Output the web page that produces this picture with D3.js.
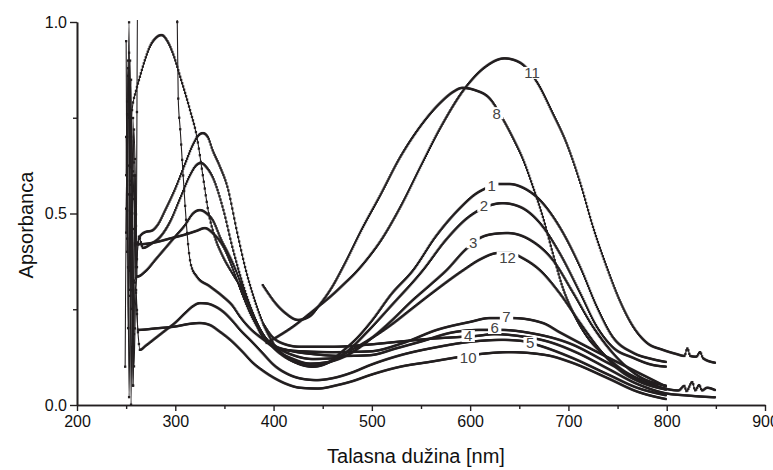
<!DOCTYPE html>
<html>
<head>
<meta charset="utf-8">
<script src="https://cdn.jsdelivr.net/npm/d3@7"></script>
<style>
  body { margin: 0; background: #fff; }
  svg { display: block; }
</style>
</head>
<body>
<svg id="chart" width="773" height="470"></svg>
<script>
// Absorbance spectra, [wavelength nm, absorbance]
const spec1 = [[250,0.95],[252,0.2],[254,0.9],[256,0.5],[258,0.72],[261,0.42],[264,0.44],[270,0.452],[276,0.455],[282,0.47],[290,0.51],[300,0.565],[310,0.63],[318,0.68],[324,0.705],[328,0.71],[333,0.7],[338,0.665],[345,0.625],[353,0.57],[363,0.45],[372,0.35],[380,0.28],[389,0.215],[400,0.16],[412,0.127],[425,0.108],[440,0.1],[455,0.11],[470,0.14],[485,0.175],[500,0.22],[520,0.29],[542,0.352],[565,0.44],[590,0.515],[605,0.55],[617,0.567],[628,0.577],[640,0.577],[654,0.567],[671,0.535],[691,0.465],[712,0.36],[729,0.256],[745,0.178],[766,0.136],[785,0.12],[800,0.112]];
const spec2 = [[251,0.55],[253,1.0],[255,0.0],[257,0.6],[260,0.36],[263,0.44],[267,0.41],[275,0.42],[285,0.44],[295,0.48],[305,0.54],[315,0.6],[321,0.625],[326,0.632],[332,0.62],[338,0.595],[349,0.509],[358,0.413],[367,0.33],[376,0.26],[386,0.2],[398,0.155],[410,0.128],[424,0.11],[438,0.102],[455,0.11],[475,0.14],[495,0.19],[520,0.26],[552,0.352],[575,0.43],[598,0.49],[614,0.515],[633,0.527],[651,0.517],[671,0.475],[691,0.397],[712,0.292],[729,0.204],[745,0.151],[766,0.123],[785,0.105],[800,0.1]];
const spec3 = [[250,0.7],[253,0.3],[255,0.85],[257,0.05],[259,0.6],[261,0.335],[270,0.35],[280,0.38],[290,0.41],[300,0.44],[310,0.47],[318,0.5],[325,0.509],[332,0.5],[338,0.483],[347,0.43],[354,0.395],[362,0.35],[372,0.28],[382,0.215],[393,0.17],[405,0.14],[420,0.12],[437,0.108],[455,0.112],[475,0.13],[500,0.175],[520,0.22],[540,0.27],[560,0.315],[576,0.352],[595,0.405],[610,0.436],[625,0.447],[638,0.449],[661,0.431],[684,0.379],[705,0.292],[725,0.204],[745,0.136],[773,0.073],[800,0.05]];
const spec4 = [[390,0.21],[398,0.18],[410,0.16],[427,0.152],[460,0.152],[498,0.158],[530,0.166],[560,0.173],[592,0.178],[605,0.18],[625,0.185],[650,0.18],[680,0.165],[710,0.135],[740,0.095],[770,0.055],[800,0.03],[820,0.025],[835,0.022],[850,0.02]];
const spec5 = [[249,0.1],[251,0.7],[253,0.02],[255,0.55],[257,0.05],[259,0.32],[262,0.19],[264,0.144],[270,0.155],[280,0.175],[290,0.195],[300,0.215],[310,0.24],[318,0.258],[325,0.266],[332,0.265],[340,0.258],[349,0.243],[358,0.22],[366,0.196],[378,0.165],[389,0.135],[400,0.105],[415,0.08],[430,0.068],[444,0.065],[460,0.07],[480,0.085],[498,0.104],[529,0.13],[566,0.151],[600,0.165],[633,0.17],[653,0.167],[668,0.157],[702,0.125],[740,0.08],[770,0.045],[800,0.025]];
const spec6 = [[257,0.15],[259,0.6],[260,0.33],[262,1.2],[299,1.2],[302,1.0],[303,0.8],[305,0.72],[307,0.64],[310,0.52],[313,0.42],[316,0.365],[322,0.335],[335,0.31],[349,0.282],[358,0.26],[366,0.23],[376,0.2],[386,0.178],[400,0.155],[420,0.14],[440,0.133],[470,0.128],[498,0.13],[525,0.148],[549,0.165],[583,0.19],[610,0.196],[632,0.196],[661,0.188],[702,0.16],[740,0.11],[770,0.07],[800,0.04]];
const spec7 = [[250,0.6],[252,0.88],[254,0.62],[256,0.77],[260,0.82],[264,0.857],[269,0.9],[274,0.935],[280,0.958],[286,0.966],[292,0.95],[298,0.915],[305,0.857],[315,0.77],[322,0.7],[328,0.6],[334,0.5],[340,0.44],[348,0.39],[359,0.34],[366,0.31],[373,0.27],[380,0.23],[386,0.19],[395,0.16],[410,0.145],[430,0.14],[460,0.138],[498,0.14],[532,0.162],[566,0.196],[600,0.217],[620,0.227],[643,0.227],[674,0.214],[691,0.19],[725,0.144],[759,0.1],[800,0.047]];
const spec8 = [[389,0.313],[395,0.29],[400,0.272],[412,0.24],[425,0.222],[437,0.232],[447,0.262],[460,0.31],[471,0.362],[490,0.46],[508,0.545],[529,0.648],[550,0.73],[570,0.79],[583,0.818],[592,0.828],[605,0.822],[620,0.8],[633,0.748],[644,0.695],[654,0.64],[664,0.569],[674,0.491],[684,0.397],[694,0.308],[705,0.24],[719,0.178],[739,0.125],[766,0.073],[796,0.044],[812,0.038],[818,0.05],[820,0.036],[826,0.06],[829,0.038],[833,0.052],[836,0.038],[841,0.045],[850,0.038]];
const spec10 = [[250,0.45],[252,0.9],[254,0.35],[256,0.55],[258,0.1],[260,0.3],[262,0.196],[280,0.2],[300,0.205],[315,0.212],[325,0.214],[335,0.209],[345,0.192],[356,0.17],[368,0.14],[379,0.11],[390,0.088],[399,0.073],[413,0.055],[427,0.045],[445,0.043],[465,0.052],[480,0.062],[498,0.078],[529,0.1],[560,0.113],[588,0.125],[610,0.133],[640,0.138],[678,0.13],[702,0.112],[740,0.07],[770,0.035],[800,0.015]];
const spec11 = [[393,0.162],[405,0.18],[420,0.205],[435,0.235],[447,0.26],[460,0.288],[470,0.312],[485,0.35],[498,0.39],[508,0.425],[529,0.517],[550,0.625],[570,0.725],[595,0.828],[615,0.882],[635,0.905],[650,0.895],[668,0.843],[684,0.762],[698,0.684],[712,0.58],[725,0.465],[739,0.36],[752,0.274],[766,0.204],[780,0.162],[796,0.144],[810,0.133],[818,0.128],[821,0.148],[824,0.128],[830,0.126],[834,0.138],[837,0.122],[850,0.11]];
const spec12 = [[251,0.4],[253,0.92],[255,0.25],[257,0.75],[260,0.3],[262,0.42],[265,0.42],[280,0.425],[295,0.435],[310,0.445],[322,0.455],[330,0.462],[338,0.449],[349,0.413],[358,0.36],[368,0.29],[378,0.23],[390,0.18],[405,0.148],[420,0.13],[440,0.12],[460,0.122],[480,0.145],[500,0.175],[520,0.21],[540,0.25],[560,0.29],[593,0.352],[610,0.38],[628,0.397],[640,0.398],[653,0.384],[671,0.352],[691,0.292],[712,0.214],[732,0.144],[752,0.091],[775,0.058],[800,0.04]];

const seriesNames = ["1", "2", "3", "4", "5", "6", "7", "8", "10", "11", "12"];
const seriesData = [spec1, spec2, spec3, spec4, spec5, spec6, spec7, spec8, spec10, spec11, spec12];

// Where each curve's number sits (nm, absorbance)
const labelNm  = [622, 614, 603, 598, 661, 625, 637, 627, 598, 663, 638];
const labelAbs = [0.572, 0.52, 0.425, 0.18, 0.162, 0.201, 0.232, 0.762, 0.123, 0.867, 0.386];

const xMajorTicks = [200, 300, 400, 500, 600, 700, 800, 900];
const xMinorTicks = [250, 350, 450, 550, 650, 750, 850];
const yMajorTicks = [0.0, 0.5, 1.0];
const yMinorTicks = [0.25, 0.75];

const xTitle = "Talasna dužina [nm]";
const yTitle = "Apsorbanca";

const ink = "#231f20";
const fontFamily = "'Liberation Sans', Arial, Helvetica, sans-serif";

const svg = d3.select("#chart");
const x = d3.scaleLinear().domain([200, 900]).range([77, 765]);
const y = d3.scaleLinear().domain([0, 1]).range([405, 22]);

svg.append("defs").append("clipPath").attr("id", "plotClip")
  .append("rect")
  .attr("x", x(200)).attr("y", y(1.005))
  .attr("width", x(900) - x(200)).attr("height", y(0) - y(1.005) + 2);

const plot = svg.append("g").attr("clip-path", "url(#plotClip)");

const line = d3.line()
  .x(d => x(d[0]))
  .y(d => y(d[1]))
  .curve(d3.curveMonotoneX);

// Sample a drawn path at every whole nanometre, so steep parts show spaced points
function samplePoints(node, nmStart, nmEnd) {
  const total = node.getTotalLength();
  const pts = [];
  let next = Math.ceil(nmStart);
  let prev = node.getPointAtLength(0);
  for (let L = 0; L <= total + 0.6; L += 0.6) {
    const p = node.getPointAtLength(Math.min(L, total));
    while (next <= nmEnd && p.x >= x(next) - 1e-6) {
      const tx = x(next);
      const t = p.x === prev.x ? 1 : (tx - prev.x) / (p.x - prev.x);
      pts.push([tx, prev.y + t * (p.y - prev.y)]);
      next += 1;
    }
    prev = p;
  }
  return pts;
}

seriesData.forEach((data) => {
  const path = plot.append("path")
    .datum(data)
    .attr("d", line)
    .attr("fill", "none")
    .attr("stroke", ink)
    .attr("stroke-width", 1.1);
  const pts = samplePoints(path.node(), data[0][0], data[data.length - 1][0]);
  plot.append("g").selectAll("rect").data(pts).join("rect")
    .attr("x", d => d[0] - 1.15)
    .attr("y", d => d[1] - 1.15)
    .attr("width", 2.3)
    .attr("height", 2.3)
    .attr("fill", ink);
});

// Curve numbers, each cut into its line
const labels = svg.append("g");
seriesNames.forEach((name, i) => {
  const g = labels.append("g");
  const t = g.append("text")
    .attr("x", x(labelNm[i]))
    .attr("y", y(labelAbs[i]))
    .attr("text-anchor", "middle")
    .attr("dy", "0.36em")
    .attr("font-family", fontFamily)
    .attr("font-size", 15)
    .attr("fill", "#444")
    .text(name);
  const bb = t.node().getBBox();
  g.insert("rect", "text")
    .attr("x", bb.x - 2.5)
    .attr("y", y(labelAbs[i]) - 6)
    .attr("width", bb.width + 5)
    .attr("height", 12)
    .attr("fill", "#fff");
});

// Axes
function styleAxis(g) {
  g.select(".domain").attr("stroke", ink).attr("stroke-width", 1.6);
  g.selectAll(".tick line").attr("stroke", ink).attr("stroke-width", 1.4);
  g.selectAll(".tick text")
    .attr("font-family", fontFamily)
    .attr("font-size", 16)
    .attr("fill", "#111");
}

const xAxis = svg.append("g").attr("transform", `translate(0,${y(0)})`)
  .call(d3.axisBottom(x).tickValues(xMajorTicks).tickFormat(d3.format("d"))
    .tickSize(6).tickSizeOuter(0).tickPadding(5));
styleAxis(xAxis);
const xMinor = svg.append("g").attr("transform", `translate(0,${y(0)})`)
  .call(d3.axisBottom(x).tickValues(xMinorTicks).tickFormat("").tickSize(4).tickSizeOuter(0));
styleAxis(xMinor);

const yAxis = svg.append("g").attr("transform", `translate(${x(200)},0)`)
  .call(d3.axisLeft(y).tickValues(yMajorTicks).tickFormat(d3.format(".1f"))
    .tickSize(7).tickSizeOuter(0).tickPadding(3));
styleAxis(yAxis);
const yMinor = svg.append("g").attr("transform", `translate(${x(200)},0)`)
  .call(d3.axisLeft(y).tickValues(yMinorTicks).tickFormat("").tickSize(4).tickSizeOuter(0));
styleAxis(yMinor);

// Axis titles
svg.append("text")
  .attr("x", 416).attr("y", 463)
  .attr("text-anchor", "middle")
  .attr("font-family", fontFamily)
  .attr("font-size", 20)
  .attr("fill", "#111")
  .text(xTitle);

svg.append("text")
  .attr("transform", `translate(33,225) rotate(-90)`)
  .attr("text-anchor", "middle")
  .attr("font-family", fontFamily)
  .attr("font-size", 20)
  .attr("fill", "#111")
  .text(yTitle);
</script>
</body>
</html>
